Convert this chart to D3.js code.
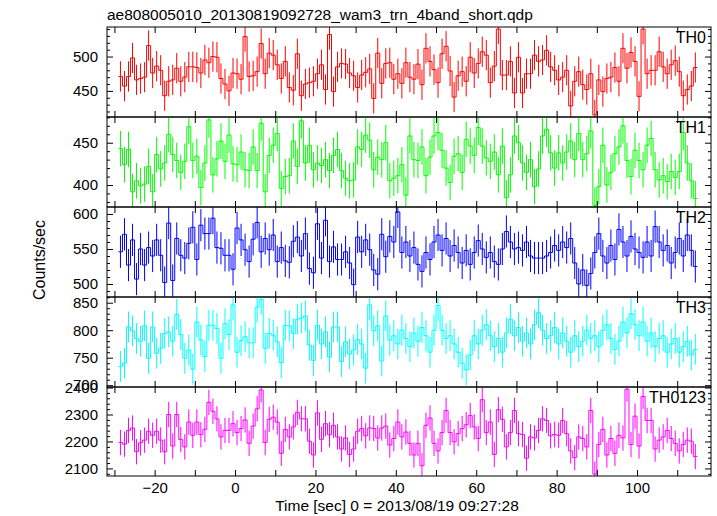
<!DOCTYPE html>
<html><head><meta charset="utf-8">
<script src="https://cdn.jsdelivr.net/npm/d3@7"></script>
<style>body{margin:0;background:#fff}text{font-family:"Liberation Sans",Arial,Helvetica,sans-serif}</style>
</head><body>
<svg id="chart" width="717" height="516"></svg>
<script>
// ---------------- data ----------------
const title = "ae808005010_20130819092728_wam3_trn_4band_short.qdp";
const xLabel = "Time [sec] 0 = 2013/08/19 09:27:28";
const yLabel = "Counts/sec";
const bandNames = ["TH0", "TH1", "TH2", "TH3", "TH0123"];
const firstBinCenter = -28.5;   // sec
const binWidth = 1;             // sec
const xTickValues = [-30,-20,-10,0,10,20,30,40,50,60,70,80,90,100,110];
const xTickLabels = [-20,0,20,40,60,80,100];

const th0 = [471,457,471,498,466,468,470,516,476,486,480,443,464,466,483,464,470,485,485,484,
476,495,491,500,499,468,460,450,476,475,467,529,471,472,478,519,475,505,502,488,
468,493,455,451,504,443,460,462,464,475,488,452,532,449,485,490,489,476,472,455,
473,477,482,439,505,461,490,491,467,475,
461,491,470,467,489,459,512,493,481,462,504,515,479,441,472,478,464,499,476,490,
507,502,462,486,540,473,473,493,447,499,447,475,475,502,493,495,509,485,480,
466,470,480,428,464,478,459,452,475,415,466,449,468,470,484,464,512,483,506,493,
442,540,475,480,480,507,485,475,488,494,478,443,452,457,484];

const th1 = [443,424,442,392,405,399,401,422,392,436,419,426,460,436,429,415,428,469,429,434,
397,426,477,412,431,452,428,459,425,424,439,418,417,445,417,473,392,435,447,461,
396,410,411,452,422,476,426,447,418,426,423,430,417,435,442,417,408,405,406,445,
442,459,453,418,433,430,450,
405,408,411,424,388,458,430,429,445,411,433,458,462,441,420,403,434,437,415,
454,446,435,468,446,432,428,439,412,446,385,412,458,450,426,415,430,398,419,458,
466,438,420,438,426,439,452,430,461,430,437,464,376,398,447,400,415,437,445,
470,429,410,441,429,418,447,455,418,406,411,404,416,409,416,462,426,405,384];

const th2 = [546,571,527,563,507,550,527,552,540,563,541,502,587,505,565,541,537,558,581,535,
584,572,572,594,552,551,541,541,521,580,563,549,532,564,588,546,565,549,570,532,
552,533,531,561,567,540,572,522,516,586,537,591,532,553,535,535,546,530,499,567,
546,563,549,520,514,571,539,568,
560,603,545,560,540,552,528,518,545,535,560,570,548,565,540,555,545,530,548,528,
545,562,550,538,545,532,528,550,575,560,550,552,548,560,540,537,537,537,540,545,
555,548,560,552,565,530,500,520,498,515,545,572,540,530,555,535,578,560,540,568,
550,545,538,560,540,582,560,548,555,530,545,565,540,570,548,525];

const th3 = [734,740,806,799,785,780,808,749,806,758,767,794,797,780,829,792,749,764,729,815,
782,752,809,809,803,749,812,792,846,760,781,788,777,777,842,856,767,794,791,779,
741,809,808,794,820,822,826,773,745,809,775,797,751,806,806,743,779,757,764,783,
775,731,846,799,808,744,826,782,
790,775,800,785,770,795,780,805,790,760,800,845,800,785,790,775,760,740,728,755,
790,775,800,810,790,770,785,760,795,820,790,805,780,795,775,810,832,800,785,790,
805,775,795,780,760,790,770,780,800,785,790,770,800,810,785,765,780,815,795,830,
810,790,815,780,795,770,785,790,760,775,785,760,770,780,755,765];

const th0123 = [2196,2190,2241,2250,2162,2195,2205,2238,2223,2238,2205,2162,2300,2183,2300,2207,2180,2272,2223,2272,
2225,2245,2345,2312,2284,2217,2241,2241,2266,2233,2248,2280,2193,2257,2321,2391,2196,2282,2290,2272,
2156,2245,2217,2254,2308,2284,2284,2201,2150,2306,2208,2266,2225,2260,2217,2172,2213,2152,2172,2238,
2248,2221,2250,2248,2213,
2250,2257,2187,2211,2272,2217,2235,2193,2150,2193,2110,2260,2287,2193,2165,2233,2315,2233,2199,2229,
2248,2262,2296,2254,2211,2355,2233,2272,2152,2318,2282,2180,2233,2315,2229,2226,2138,2217,2213,2241,
2284,2278,2221,2226,2223,2278,2229,2165,2140,2217,2211,2180,2315,2079,2189,2245,2150,2211,2156,
2223,2213,2394,2189,2294,2183,2367,2278,2278,2172,2205,2217,2241,2211,2193,2165,2189,2205,2201,2144];

const errors = [22, 21, 23, 28, 47];   // typical 1-sigma error per band
const yMajorTicks = [[450,500],[400,450],[500,550,600],[700,750,800,850],[2100,2200,2300,2400]];
const yMinorStep = [10,10,10,10,20];
const yDomains = [[412,543],[374,480.4],[481.4,610],[696.7,860.4],[2072,2402]];
const colors = ["#ff0000","#00ff00","#0000ff","#00ffff","#ff00ff"];
const series = [th0, th1, th2, th3, th0123];

// ---------------- layout ----------------
const svg = d3.select("#chart");
const L = 107, R = 711;
const edges = [27,117,207,297,387,476];
const x = d3.scaleLinear().domain([-31.85,118.4]).range([L,R]);
const font = "Liberation Sans, Arial, Helvetica, sans-serif";

svg.append("text").attr("x",L).attr("y",20).attr("font-size",15.5).attr("fill","#000").text(title);

series.forEach((vals, p) => {
  const top = edges[p], bot = edges[p+1];
  const y = d3.scaleLinear().domain(yDomains[p]).range([bot, top]);
  const g = svg.append("g");
  const cid = "clip"+p;
  svg.append("clipPath").attr("id",cid).append("rect").attr("x",L).attr("y",top).attr("width",R-L).attr("height",bot-top);

  const times = vals.map((v,i) => firstBinCenter + i*binWidth);
  const pts = vals.map((v,i) => [times[i]-binWidth/2, v]);
  pts.push([times[times.length-1]+binWidth/2, vals[vals.length-1]]);
  const line = d3.line().x(d=>x(d[0])).y(d=>y(d[1])).curve(d3.curveStepAfter);
  const dg = g.append("g").attr("clip-path",`url(#${cid})`);
  dg.selectAll("line.err").data(vals).join("line").attr("class","err")
    .attr("x1",(d,i)=>x(times[i])).attr("x2",(d,i)=>x(times[i]))
    .attr("y1",d=>y(d-errors[p])).attr("y2",d=>y(d+errors[p]))
    .attr("stroke",colors[p]).attr("stroke-width",1);
  dg.append("path").attr("d",line(pts)).attr("fill","none").attr("stroke",colors[p]).attr("stroke-width",1);

  // y axes
  const minor = d3.range(Math.ceil(yDomains[p][0]/yMinorStep[p])*yMinorStep[p], yDomains[p][1], yMinorStep[p]);
  const yl = g.append("g").attr("transform",`translate(${L},0)`)
    .call(d3.axisLeft(y).tickValues(yMajorTicks[p]).tickSizeInner(-6).tickSizeOuter(0).tickPadding(9).tickFormat(d3.format("d")));
  g.append("g").attr("transform",`translate(${L},0)`)
    .call(d3.axisLeft(y).tickValues(minor.filter(v=>!yMajorTicks[p].includes(v))).tickSizeInner(-3).tickSizeOuter(0).tickFormat(""));
  g.append("g").attr("transform",`translate(${R},0)`)
    .call(d3.axisRight(y).tickValues(yMajorTicks[p]).tickSizeInner(-6).tickSizeOuter(0).tickFormat(""));
  g.append("g").attr("transform",`translate(${R},0)`)
    .call(d3.axisRight(y).tickValues(minor.filter(v=>!yMajorTicks[p].includes(v))).tickSizeInner(-3).tickSizeOuter(0).tickFormat(""));
  yl.selectAll("text").attr("font-size",15).attr("font-family",font).attr("fill","#000");

  // x ticks top & bottom
  g.append("g").attr("transform",`translate(0,${top})`)
    .call(d3.axisTop(x).tickValues(xTickValues).tickSizeInner(-6).tickSizeOuter(0).tickFormat(""));
  const xb = g.append("g").attr("transform",`translate(0,${bot})`)
    .call(d3.axisBottom(x).tickValues(xTickValues).tickSizeInner(-6).tickSizeOuter(0).tickPadding(6)
      .tickFormat(d => (p===4 && xTickLabels.includes(d)) ? d3.format("d")(d) : ""));
  xb.selectAll("text").attr("font-size",15).attr("font-family",font).attr("fill","#000");

  g.selectAll(".domain").remove();
  g.selectAll(".tick line").attr("stroke","#000");

  g.append("rect").attr("x",L).attr("y",top).attr("width",R-L).attr("height",bot-top)
    .attr("fill","none").attr("stroke","#000").attr("stroke-width",1);

  g.append("text").attr("x",706).attr("y",top+16).attr("text-anchor","end")
    .attr("font-size",16).attr("fill","#000").text(bandNames[p]);
});

svg.append("text").attr("x",397).attr("y",511).attr("text-anchor","middle").attr("font-size",15.5).text(xLabel);
svg.append("text").attr("transform","translate(45,260) rotate(-90)").attr("text-anchor","middle").attr("font-size",16).text(yLabel);
</script>
</body></html>
